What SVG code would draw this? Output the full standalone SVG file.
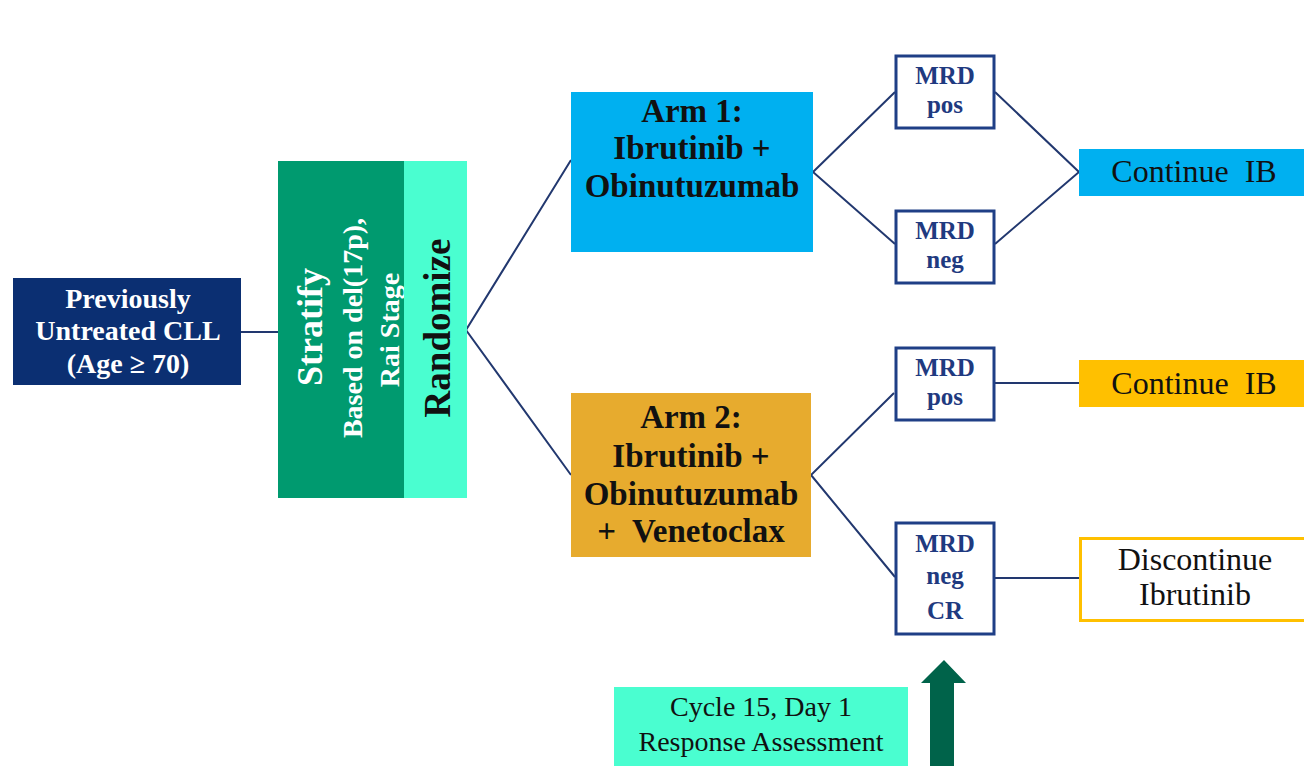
<svg xmlns="http://www.w3.org/2000/svg" width="1304" height="766" viewBox="0 0 1304 766">
<style>
text{font-family:"Liberation Serif","Tinos","Times New Roman","DejaVu Serif","Noto Serif",serif;}
.b{font-weight:bold;}
.wh{fill:#ffffff;}
.bk{fill:#111111;}
.nv{fill:#1f3a80;}
.mrd{fill:#ffffff;stroke:#1f3f86;stroke-width:3;}
.ln{stroke:#22386f;stroke-width:2;fill:none;}
</style>
<rect width="1304" height="766" fill="#ffffff"/>
<g id="connectors">
<line class="ln" x1="241" y1="332" x2="278" y2="332"/>
<polyline class="ln" points="571,160 466,330 571,475"/>
<polyline class="ln" points="895,92 813,172 895,244"/>
<polyline class="ln" points="995,92 1079,172 995,244"/>
<polyline class="ln" points="894,393 811,475 895,577"/>
<line class="ln" x1="995" y1="383" x2="1079" y2="383"/>
<line class="ln" x1="995" y1="578" x2="1079" y2="578"/>
</g>
<g id="previously">
<rect x="13" y="278" width="228" height="107" fill="#0b2f72"/>
<text class="b wh" font-size="28" text-anchor="middle"><tspan x="128" y="308">Previously</tspan><tspan x="128" y="340">Untreated CLL</tspan><tspan x="128" y="373">(Age ≥ 70)</tspan></text>
</g>
<g id="stratify">
<rect x="278" y="161" width="126" height="337" fill="#009a6f"/>
<text class="b wh" font-size="36" text-anchor="middle" transform="rotate(-90 322 327)" x="322" y="327">Stratify</text>
<text class="b wh" font-size="28" text-anchor="middle" transform="rotate(-90 362 328)" x="362" y="328">Based on del(17p),</text>
<text class="b wh" font-size="28" text-anchor="middle" transform="rotate(-90 399 330)" x="399" y="330">Rai Stage</text>
</g>
<g id="randomize">
<rect x="404" y="161" width="63" height="337" fill="#4afed0"/>
<text class="b bk" font-size="37" text-anchor="middle" transform="rotate(-90 450 328)" x="450" y="328">Randomize</text>
</g>
<g id="arm1">
<rect x="571" y="92" width="242" height="160" fill="#00b0f0"/>
<text class="b bk" font-size="33" text-anchor="middle"><tspan x="692" y="122">Arm 1:</tspan><tspan x="692" y="159">Ibrutinib +</tspan><tspan x="692" y="197">Obinutuzumab</tspan></text>
</g>
<g id="arm2">
<rect x="571" y="393" width="240" height="164" fill="#e7ab2e"/>
<text class="b bk" font-size="33" text-anchor="middle" xml:space="preserve"><tspan x="691" y="428">Arm 2:</tspan><tspan x="691" y="467">Ibrutinib +</tspan><tspan x="691" y="505">Obinutuzumab</tspan><tspan x="691" y="542">+  Venetoclax</tspan></text>
</g>
<g id="mrd1pos">
<rect class="mrd" x="896" y="56" width="98" height="72"/>
<text class="b nv" font-size="25" text-anchor="middle"><tspan x="945" y="84">MRD</tspan><tspan x="945" y="113">pos</tspan></text>
</g>
<g id="mrd1neg">
<rect class="mrd" x="896" y="211" width="98" height="72"/>
<text class="b nv" font-size="25" text-anchor="middle"><tspan x="945" y="239">MRD</tspan><tspan x="945" y="268">neg</tspan></text>
</g>
<g id="mrd2pos">
<rect class="mrd" x="896" y="348" width="98" height="72"/>
<text class="b nv" font-size="25" text-anchor="middle"><tspan x="945" y="376">MRD</tspan><tspan x="945" y="405">pos</tspan></text>
</g>
<g id="mrd2neg">
<rect class="mrd" x="896" y="523" width="98" height="111"/>
<text class="b nv" font-size="25" text-anchor="middle"><tspan x="945" y="552">MRD</tspan><tspan x="945" y="584">neg</tspan><tspan x="945" y="619">CR</tspan></text>
</g>
<g id="continue1">
<rect x="1079" y="149" width="225" height="47" fill="#00b0f0"/>
<text class="bk" font-size="32" text-anchor="middle" x="1194" y="182" xml:space="preserve">Continue  IB</text>
</g>
<g id="continue2">
<rect x="1079" y="360" width="225" height="47" fill="#ffc000"/>
<text class="bk" font-size="32" text-anchor="middle" x="1194" y="394" xml:space="preserve">Continue  IB</text>
</g>
<g id="discontinue">
<rect x="1080.5" y="538.5" width="226" height="82" fill="#ffffff" stroke="#ffc000" stroke-width="3"/>
<text class="bk" font-size="32" text-anchor="middle"><tspan x="1195" y="570">Discontinue</tspan><tspan x="1195" y="605">Ibrutinib</tspan></text>
</g>
<g id="cycle15">
<rect x="614" y="687" width="294" height="79" fill="#4afed0"/>
<text class="bk" font-size="28" text-anchor="middle"><tspan x="761" y="716">Cycle 15, Day 1</tspan><tspan x="761" y="751">Response Assessment</tspan></text>
</g>
<g id="arrow">
<polygon points="944,660 966,683 954,683 954,766 930,766 930,683 921,683" fill="#00634a"/>
</g>
</svg>
